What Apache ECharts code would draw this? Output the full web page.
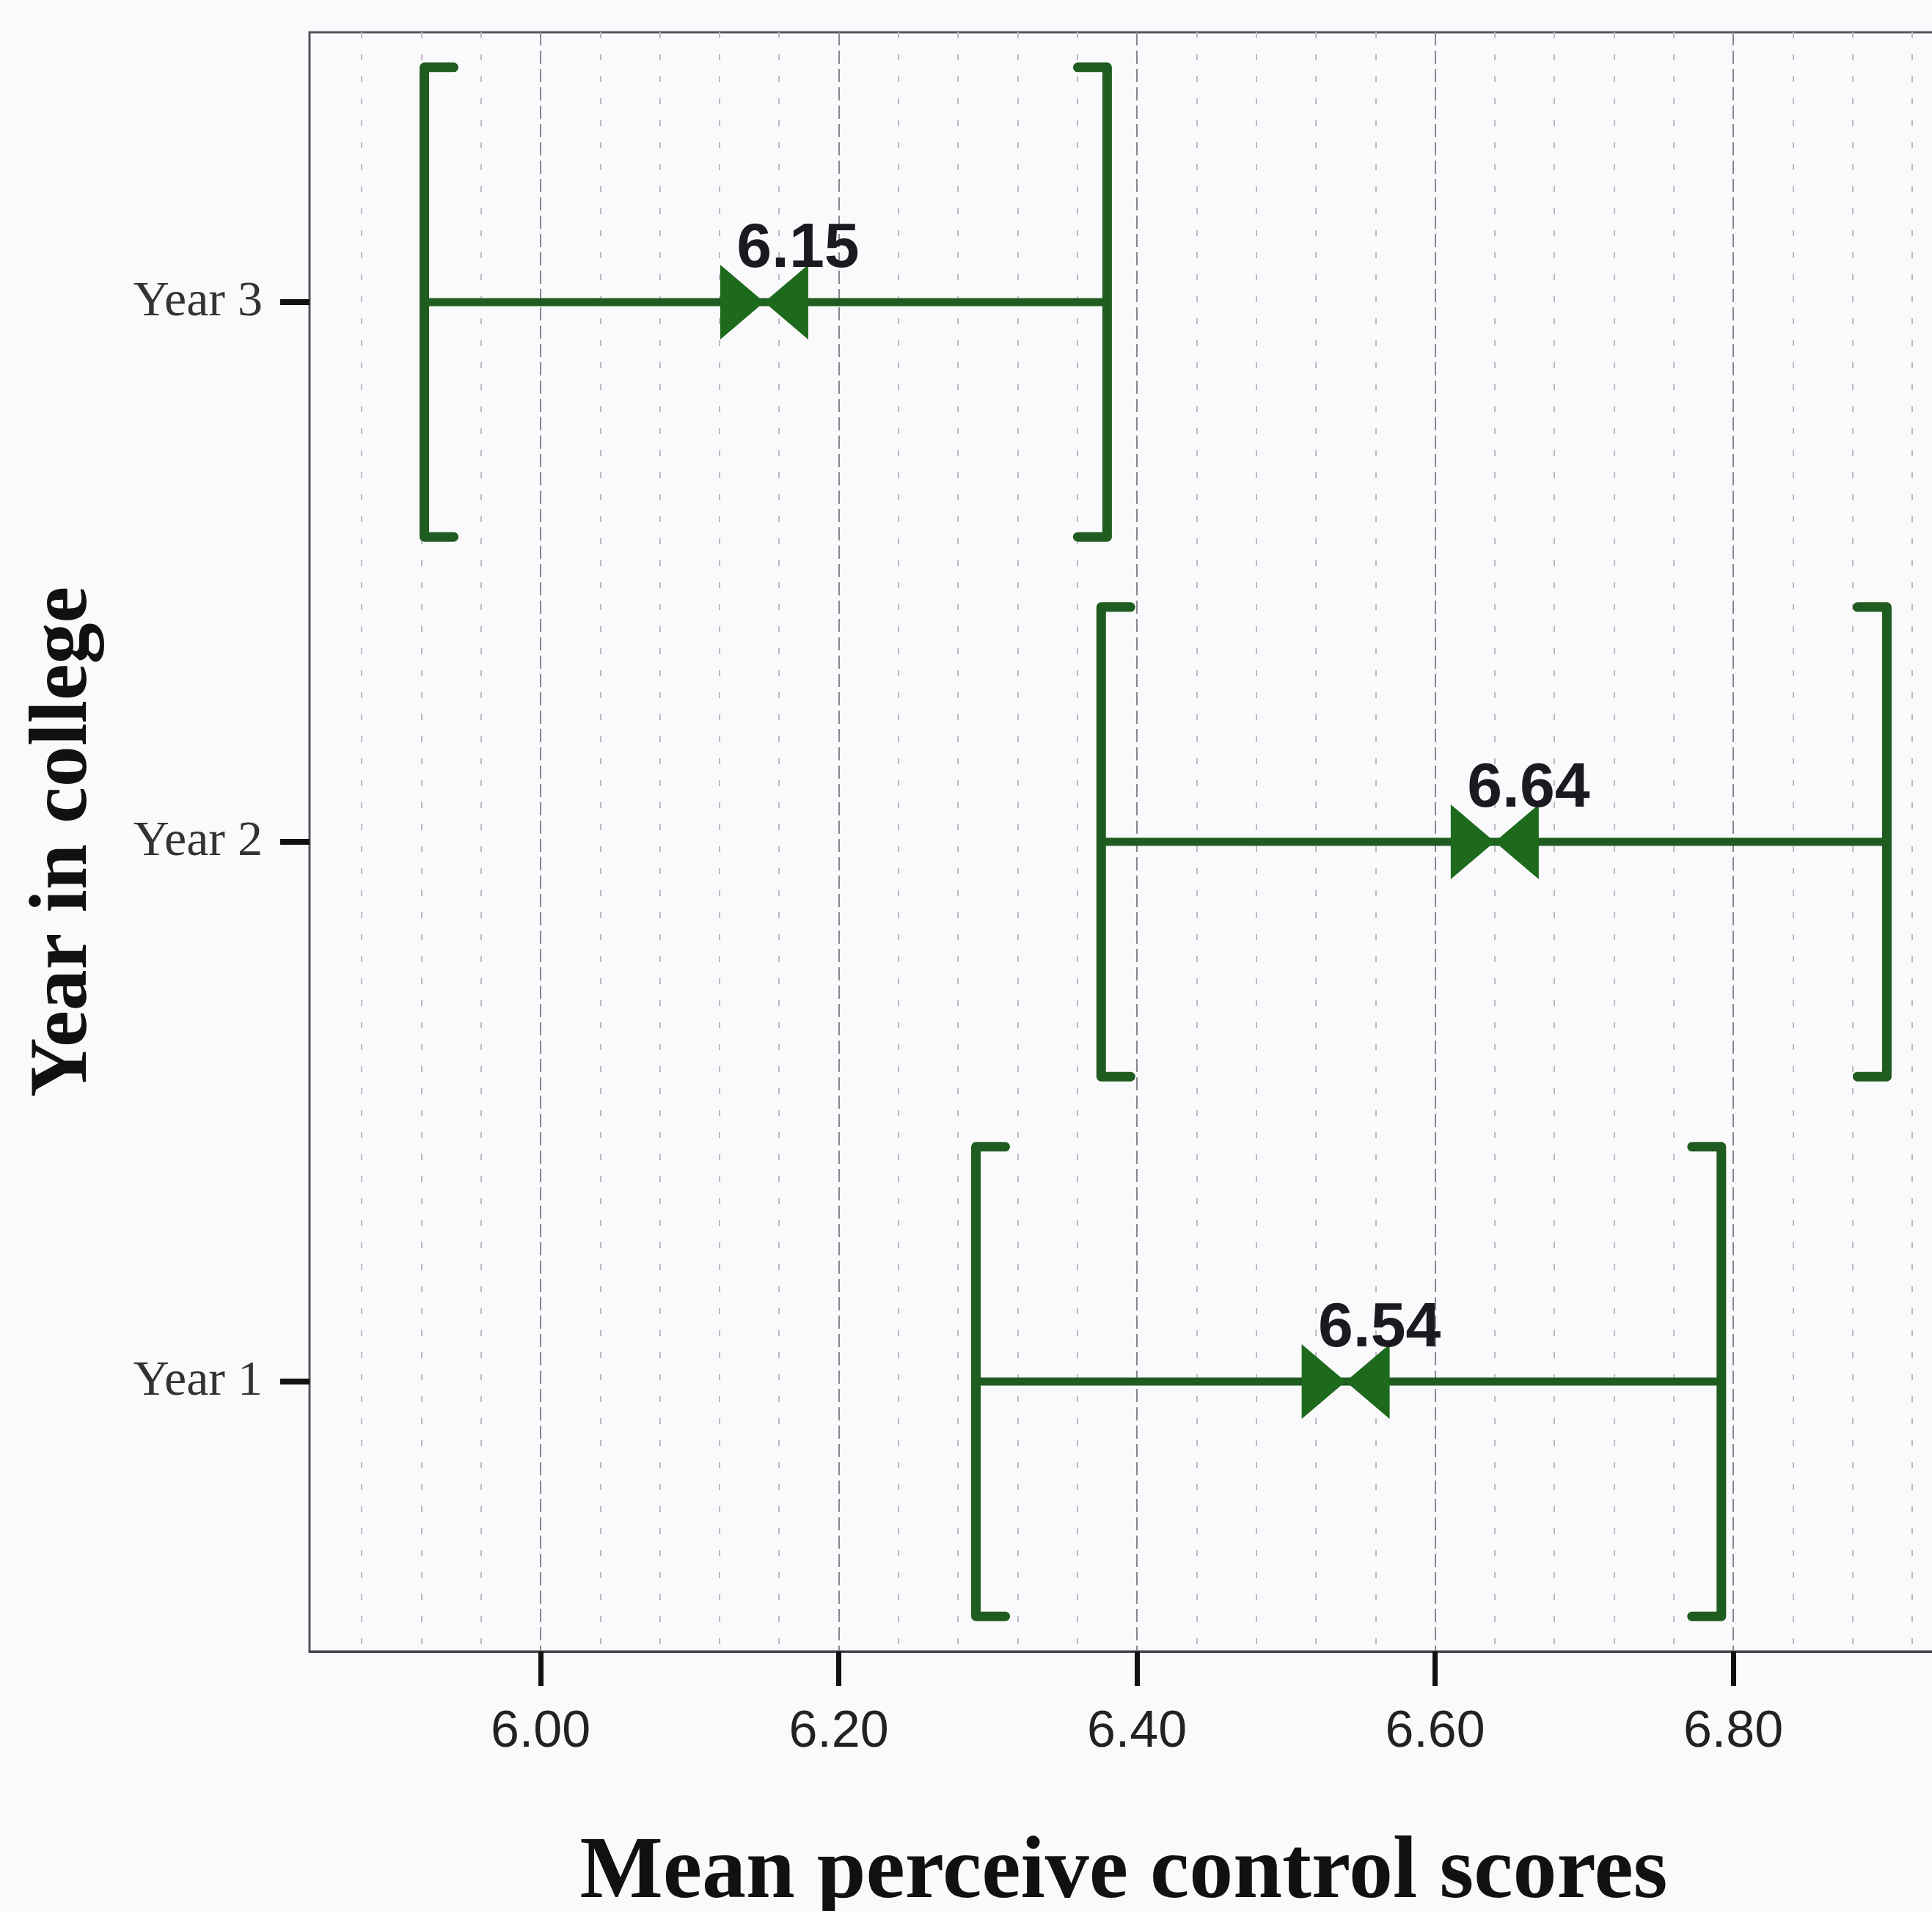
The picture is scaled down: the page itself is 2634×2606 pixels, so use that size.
<!DOCTYPE html>
<html>
<head>
<meta charset="utf-8">
<title>Mean perceive control scores by year in college</title>
<script src="https://cdn.jsdelivr.net/npm/echarts@6/dist/echarts.min.js"></script>
<style>
  html, body { margin: 0; padding: 0; background: #fafafc; }
  #chart { width: 2634px; height: 2606px; }
</style>
</head>
<body>
<div id="chart"></div>
<script>
// Year groups, bottom to top on the category axis
const categories = ['Year 1', 'Year 2', 'Year 3'];
// Group means and the lower / upper ends of each confidence interval
const means = [6.54, 6.64, 6.15];
const ciLower = [6.292, 6.376, 5.922];
const ciUpper = [6.792, 6.903, 6.380];
// Labelled ticks on the score axis
const tickValues = [6.00, 6.20, 6.40, 6.60, 6.80];

const GREEN_LINE = '#1f5c1f';
const GREEN_MARK = '#1d6a1d';

const intervalData = categories.map((c, i) => [i, ciLower[i], ciUpper[i]]);
const meanData = categories.map((c, i) => [means[i], c]);

// Horizontal interval line with square-bracket caps at both ends
function renderInterval(params, api) {
  const cat = api.value(0);
  const lo = api.coord([api.value(1), cat]);
  const hi = api.coord([api.value(2), cat]);
  const band = api.size([0, 1])[1];
  const half = band * 0.435;
  const stub = 40;
  const capStyle = { stroke: GREEN_LINE, lineWidth: 13, fill: null, lineJoin: 'round', lineCap: 'round' };
  return {
    type: 'group',
    children: [
      {
        type: 'line',
        shape: { x1: lo[0], y1: lo[1], x2: hi[0], y2: hi[1] },
        style: { stroke: GREEN_LINE, lineWidth: 11 }
      },
      {
        type: 'polyline',
        shape: { points: [[lo[0] + stub, lo[1] - half], [lo[0], lo[1] - half], [lo[0], lo[1] + half], [lo[0] + stub, lo[1] + half]] },
        style: capStyle
      },
      {
        type: 'polyline',
        shape: { points: [[hi[0] - stub, hi[1] - half], [hi[0], hi[1] - half], [hi[0], hi[1] + half], [hi[0] - stub, hi[1] + half]] },
        style: capStyle
      }
    ]
  };
}

const chart = echarts.init(document.getElementById('chart'), null, { renderer: 'canvas' });

chart.setOption({
  backgroundColor: '#fafafc',
  animation: false,
  grid: {
    left: 422,
    top: 44,
    width: 2250,
    height: 2208,
    outerBoundsMode: 'none',
    containLabel: false,
    show: true,
    borderColor: '#55515c',
    borderWidth: 3,
    backgroundColor: 'transparent'
  },
  xAxis: {
    type: 'value',
    min: 5.845,
    max: 6.952,
    splitNumber: 5,
    minInterval: 0.2,
    maxInterval: 0.2,
    name: 'Mean perceive control scores',
    nameLocation: 'middle',
    nameGap: 244,
    nameTextStyle: {
      fontFamily: '"Liberation Serif", "Times New Roman", serif',
      fontWeight: 'bold',
      fontSize: 120,
      color: '#111',
      padding: [0, 30, 0, 0]
    },
    axisLine: { show: true, lineStyle: { color: '#45424a', width: 3 } },
    axisTick: {
      show: true,
      customValues: tickValues,
      length: 47,
      lineStyle: { color: '#111', width: 7 }
    },
    axisLabel: {
      customValues: tickValues,
      margin: 76,
      fontFamily: '"Liberation Sans Narrow", "Liberation Sans", Arial, sans-serif',
      fontSize: 70,
      color: '#222',
      formatter: v => v.toFixed(2)
    },
    splitLine: {
      show: true,
      lineStyle: { color: '#8a8690', width: 2, type: [18, 7] }
    },
    minorTick: { show: false, splitNumber: 5 },
    minorSplitLine: {
      show: true,
      lineStyle: { color: '#bbb9c2', width: 2, type: [8, 22] }
    }
  },
  yAxis: {
    type: 'category',
    data: categories,
    boundaryGap: true,
    name: 'Year in college',
    nameLocation: 'middle',
    nameGap: 278,
    nameTextStyle: {
      fontFamily: '"Liberation Serif", "Times New Roman", serif',
      fontWeight: 'bold',
      fontSize: 112,
      color: '#111'
    },
    axisLine: { show: false },
    axisTick: {
      show: true,
      alignWithLabel: true,
      length: 40,
      lineStyle: { color: '#111', width: 8 }
    },
    axisLabel: {
      margin: 64,
      fontFamily: '"Liberation Serif", "Times New Roman", serif',
      fontSize: 68,
      color: '#333'
    },
    splitLine: { show: false }
  },
  series: [
    {
      type: 'custom',
      name: 'Confidence interval',
      renderItem: renderInterval,
      encode: { x: [1, 2], y: 0 },
      data: intervalData,
      z: 3
    },
    {
      type: 'scatter',
      name: 'Mean',
      data: meanData,
      symbol: 'path://M0,0L50,50L0,100ZM100,0L50,50L100,100Z',
      symbolSize: [120, 102],
      symbolKeepAspect: false,
      itemStyle: { color: GREEN_MARK, opacity: 1 },
      z: 5,
      label: {
        show: true,
        position: 'inside',
        offset: [46, -72],
        fontFamily: '"Liberation Sans", Arial, sans-serif',
        fontWeight: 'bold',
        fontSize: 86,
        color: '#1c1a20',
        formatter: p => p.value[0].toFixed(2)
      }
    }
  ]
});
</script>
</body>
</html>
